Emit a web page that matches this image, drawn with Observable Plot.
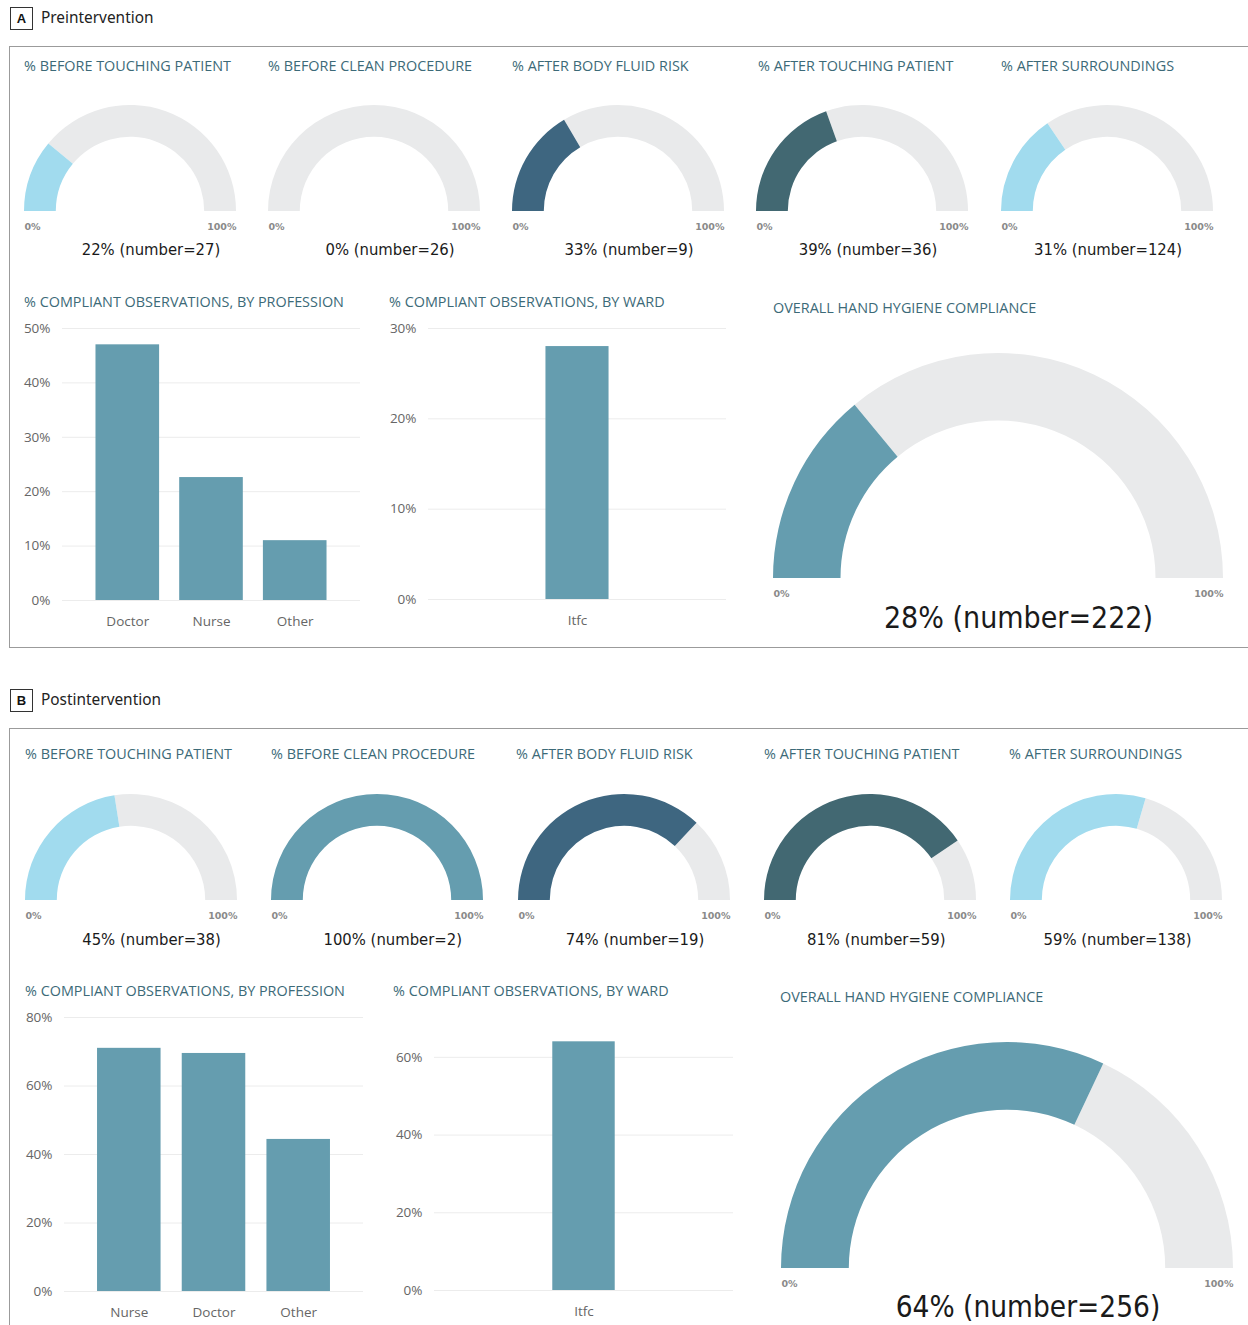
<!DOCTYPE html>
<html><head><meta charset="utf-8">
<script src="https://cdn.jsdelivr.net/npm/d3@7"></script>
<script src="https://cdn.jsdelivr.net/npm/@observablehq/plot@0.6"></script>
<style>
body{margin:0;background:#fff;}
#root{position:relative;width:1248px;height:1325px;overflow:hidden;background:#fff;}
.frame{position:absolute;border:1px solid #9b9b9b;box-sizing:border-box;}
.tag{position:absolute;width:23px;height:23px;box-sizing:border-box;border:1px solid #333;font:bold 13px "Liberation Sans",Arial,sans-serif;color:#111;display:flex;align-items:center;justify-content:center;}
.ptitle{position:absolute;font:15.4px "Noto Sans",sans-serif;color:#222;white-space:nowrap;line-height:1;transform:translateY(-50%);}
.ctitle{position:absolute;font:14.4px "Open Sans",sans-serif;color:#3c6a78;white-space:nowrap;line-height:1;transform:translateY(-50%);}
svg{position:absolute;}
</style></head>
<body><div id="root"></div>
<script>
// ---------- DATA ----------
const moments = ["% BEFORE TOUCHING PATIENT", "% BEFORE CLEAN PROCEDURE", "% AFTER BODY FLUID RISK", "% AFTER TOUCHING PATIENT", "% AFTER SURROUNDINGS"];
const prePct = [22, 0, 33, 39, 31];
const preN = [27, 26, 9, 36, 124];
const postPct = [45, 100, 74, 81, 59];
const postN = [38, 2, 19, 59, 138];

const preProfessions = ["Doctor", "Nurse", "Other"];
const preProfessionPct = [47, 22.6, 11];
const postProfessions = ["Nurse", "Doctor", "Other"];
const postProfessionPct = [71, 69.5, 44.4];

const wards = ["Itfc"];
const preWardPct = [28];
const postWardPct = [64];

const preOverallPct = 28, preOverallN = 222;
const postOverallPct = 64, postOverallN = 256;

const preProfessionTicks = [0, 10, 20, 30, 40, 50];
const preWardTicks = [0, 10, 20, 30];
const postProfessionTicks = [0, 20, 40, 60, 80];
const postWardTicks = [0, 20, 40, 60];
const gaugeEnds = [0, 100];

// ---------- STYLE ----------
const momentColors = ["#a1dbee", "#659daf", "#3e6680", "#426872", "#a1dbee"];
const barColor = "#659daf";
const overallColor = "#659daf";
const trackColor = "#e9eaeb";
const gridColor = "#ececec";

const root = document.getElementById("root");
function div(cls, text, left, top, extra) {
  const d = document.createElement("div");
  d.className = cls; d.textContent = text;
  d.style.left = left + "px"; d.style.top = top + "px";
  if (extra) Object.assign(d.style, extra);
  root.appendChild(d); return d;
}
function place(node, left, top) {
  node.style.position = "absolute";
  node.style.left = left + "px";
  node.style.top = top + "px";
  root.appendChild(node);
}

function arcMark(pct, color, ratio) {
  return (index, scales) => {
    const x = scales.x, y = scales.y;
    const cx = x(0), cy = y(0), R = x(1) - x(0);
    const arc = d3.arc().innerRadius(R * ratio).outerRadius(R);
    const a0 = -Math.PI / 2, a1 = -Math.PI / 2 + Math.PI * pct / 100;
    const g = d3.create("svg:g").attr("transform", `translate(${cx},${cy})`);
    if (pct < 100) g.append("path").attr("d", arc({startAngle: a1, endAngle: Math.PI / 2})).attr("fill", trackColor);
    if (pct > 0) g.append("path").attr("d", arc({startAngle: a0, endAngle: a1})).attr("fill", color);
    return g.node();
  };
}

function gauge({cx, base, R, pct, n, color, textX, valueFs, valueDy, mb}) {
  const m = 3;
  const fmt = d => d + "%";
  const chart = Plot.plot({
    width: 2 * R + 2 * m, height: R + m + mb,
    marginLeft: m, marginRight: m, marginTop: m, marginBottom: mb,
    x: {domain: [-1, 1], axis: null},
    y: {domain: [0, 1], axis: null},
    style: {background: "transparent", overflow: "visible"},
    marks: [
      arcMark(pct, color, 0.70),
      Plot.text(gaugeEnds.slice(0, 1), {x: d => d / 50 - 1, y: 0, text: fmt, textAnchor: "start", dy: 15,
        fontSize: 9.5, fontWeight: "bold", fill: "#8a8a8a", fontFamily: "DejaVu Sans"}),
      Plot.text(gaugeEnds.slice(1), {x: d => d / 50 - 1, y: 0, text: fmt, textAnchor: "end", dy: 15,
        fontSize: 9.5, fontWeight: "bold", fill: "#8a8a8a", fontFamily: "DejaVu Sans"}),
      Plot.text([{pct, n}], {x: 0, y: 0, text: d => `${d.pct}% (number=${d.n})`, dx: textX - cx, dy: valueDy,
        fontSize: valueFs, fill: "#1a1a1a", fontFamily: "DejaVu Sans Condensed"})
    ]
  });
  place(chart, cx - R - m, base - R - m);
}

function bars({px0, px1, py0, py1, cats, vals, ymax, ticks, pi, po}) {
  const ml = 62, mr = 12, mt = 20, mbot = 40;
  const data = cats.map((c, i) => ({c, v: vals[i]}));
  const chart = Plot.plot({
    width: px1 - px0 + ml + mr, height: py1 - py0 + mt + mbot,
    marginLeft: ml, marginRight: mr, marginTop: mt, marginBottom: mbot,
    style: {background: "transparent", overflow: "visible", fontFamily: "Open Sans", fontSize: "13.5px", color: "#666"},
    x: {domain: cats, paddingInner: pi, paddingOuter: po, round: false, tickSize: 0, tickPadding: 16, label: null},
    y: {domain: [0, ymax], ticks, tickFormat: d => d + "%", tickSize: 0, tickPadding: 12, label: null},
    marks: [
      Plot.ruleY(ticks, {stroke: gridColor, strokeWidth: 1}),
      Plot.barY(data, {x: "c", y: "v", fill: barColor})
    ]
  });
  place(chart, px0 - ml, py0 - mt);
}

// ---------- PANEL A ----------
div("tag", "A", 10, 7);
div("ptitle", "Preintervention", 41, 18);
const fa = div("frame", "", 9, 46); fa.style.width = "1300px"; fa.style.height = "602px";

const aTitleX = [24, 268, 512, 758, 1001];
moments.forEach((t, i) => {
  div("ctitle", t, aTitleX[i], 66);
  gauge({cx: 129.5 + 244.25 * i, base: 211, R: 106, pct: prePct[i], n: preN[i], color: momentColors[i],
    textX: 150 + 239.25 * i, valueFs: 16.5, valueDy: 38, mb: 55});
});
div("ctitle", "% COMPLIANT OBSERVATIONS, BY PROFESSION", 24, 302);
bars({px0: 62, px1: 360, py0: 328, py1: 600, cats: preProfessions, vals: preProfessionPct, ymax: 50,
  ticks: preProfessionTicks, pi: 0.24, po: 0.40});
div("ctitle", "% COMPLIANT OBSERVATIONS, BY WARD", 389, 302);
bars({px0: 428, px1: 726, py0: 328, py1: 599, cats: wards, vals: preWardPct, ymax: 30,
  ticks: preWardTicks, pi: 0.24, po: 1.415});
div("ctitle", "OVERALL HAND HYGIENE COMPLIANCE", 773, 308);
gauge({cx: 998, base: 578, R: 225, pct: preOverallPct, n: preOverallN, color: overallColor,
  textX: 1018, valueFs: 30, valueDy: 40, mb: 65});

// ---------- PANEL B ----------
div("tag", "B", 10, 689);
div("ptitle", "Postintervention", 41, 700);
const fb = div("frame", "", 9, 728); fb.style.width = "1300px"; fb.style.height = "700px";

const bTitleX = [25, 271, 516, 764, 1009];
moments.forEach((t, i) => {
  div("ctitle", t, bTitleX[i], 754);
  gauge({cx: 131 + 246.25 * i, base: 899.5, R: 106, pct: postPct[i], n: postN[i], color: momentColors[i],
    textX: 151 + 241.5 * i, valueFs: 16.5, valueDy: 39.5, mb: 55});
});
div("ctitle", "% COMPLIANT OBSERVATIONS, BY PROFESSION", 25, 991);
bars({px0: 64, px1: 363, py0: 1017, py1: 1291, cats: postProfessions, vals: postProfessionPct, ymax: 80,
  ticks: postProfessionTicks, pi: 0.25, po: 0.39});
div("ctitle", "% COMPLIANT OBSERVATIONS, BY WARD", 393, 991);
bars({px0: 434, px1: 733, py0: 1018, py1: 1290, cats: wards, vals: postWardPct, ymax: 70,
  ticks: postWardTicks, pi: 0.24, po: 1.44});
div("ctitle", "OVERALL HAND HYGIENE COMPLIANCE", 780, 997);
gauge({cx: 1006.5, base: 1268, R: 226, pct: postOverallPct, n: postOverallN, color: overallColor,
  textX: 1027, valueFs: 29.5, valueDy: 39.5, mb: 60});
</script>
</body></html>
